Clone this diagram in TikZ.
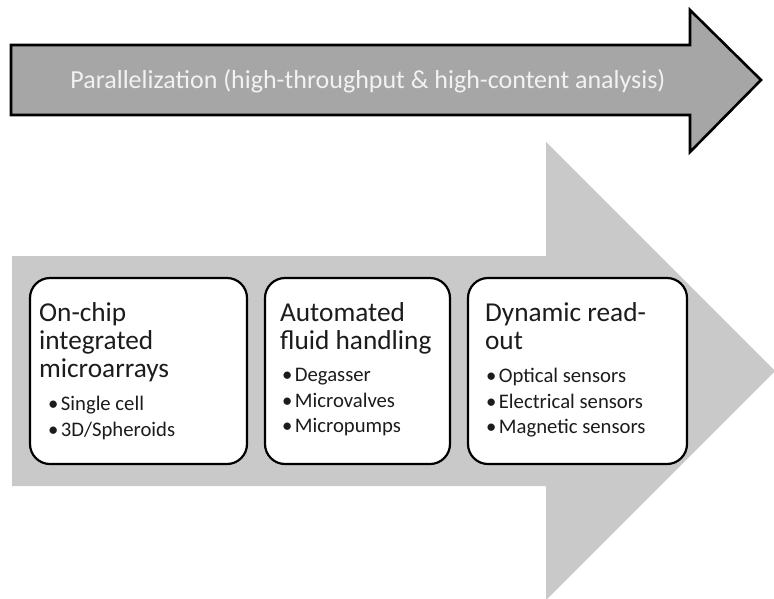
\documentclass[tikz,border=0pt]{standalone}
\usepackage{fontspec}
\setmainfont{Carlito}
\usetikzlibrary{positioning}

\definecolor{upper}{HTML}{A6A6A6}
\definecolor{lower}{HTML}{C9C9C9}
\definecolor{ink}{HTML}{1C1C1C}
\newcommand{\bul}{\textbullet\hspace{2.5pt}}

\begin{document}
\begin{tikzpicture}[x=1pt,y=-1pt]
      \tikzstyle{card}=[draw=black, line width=2.2pt, fill=white, rounded corners=20pt, inner sep=0pt, minimum height=186pt]
      \tikzstyle{heading}=[inner sep=0pt, anchor=north west, align=left, text=ink, text depth=6pt, font=\fontsize{27.3}{28}\selectfont]
      \tikzstyle{points}=[inner sep=0pt, align=left, text=ink, font=\fontsize{20.7}{25.5}\selectfont]
      \useasboundingbox (0,0) rectangle (774,598);
      % wide light arrow behind the three boxes
      \fill [lower] (12,256) -- (546,256) -- (546,142) -- (775,371) -- (546,600) -- (546,486) -- (12,486) -- cycle;
      % upper arrow
      \draw [line width=2.6pt, fill=upper, line join=miter] (11,45) -- (690,45) -- (690,10) -- (761,80) -- (690,152) -- (690,115) -- (11,115) -- cycle;
      \node [text=white!95!black, font=\fontsize{26}{26}\selectfont, inner sep=0pt] (par) at (368,81) {Parallelization (high-throughput \& high-content analysis)};

      \node [card, minimum width=217pt] (chip) at (138.5,371) {};
      \node [card, minimum width=185pt] (fluid) at (357.5,371) {};
      \node [card, minimum width=219pt] (readout) at (577.5,371) {};

      \node [heading] (chipT) at ([xshift=10pt,yshift=-25pt]chip.north west) {On-chip\\integrated\\microarrays};
      \node [heading] (fluidT) at ([xshift=16pt,yshift=-25pt]fluid.north west) {Automated\\fluid handling};
      \node [heading] (readoutT) at ([xshift=18pt,yshift=-25pt]readout.north west) {Dynamic read-\\out};

      \node [points, below right=13pt and 9pt of chipT.south west] (chipL) {\bul Single cell\\\bul 3D/Spheroids};
      \node [points, below right=13pt and 2pt of fluidT.south west] (fluidL) {\bul Degasser\\\bul Microvalves\\\bul Micropumps};
      \node [points, below right=13pt and 1pt of readoutT.south west] (readoutL) {\bul Optical sensors\\\bul Electrical sensors\\\bul Magnetic sensors};
    \end{tikzpicture}
\end{document}
